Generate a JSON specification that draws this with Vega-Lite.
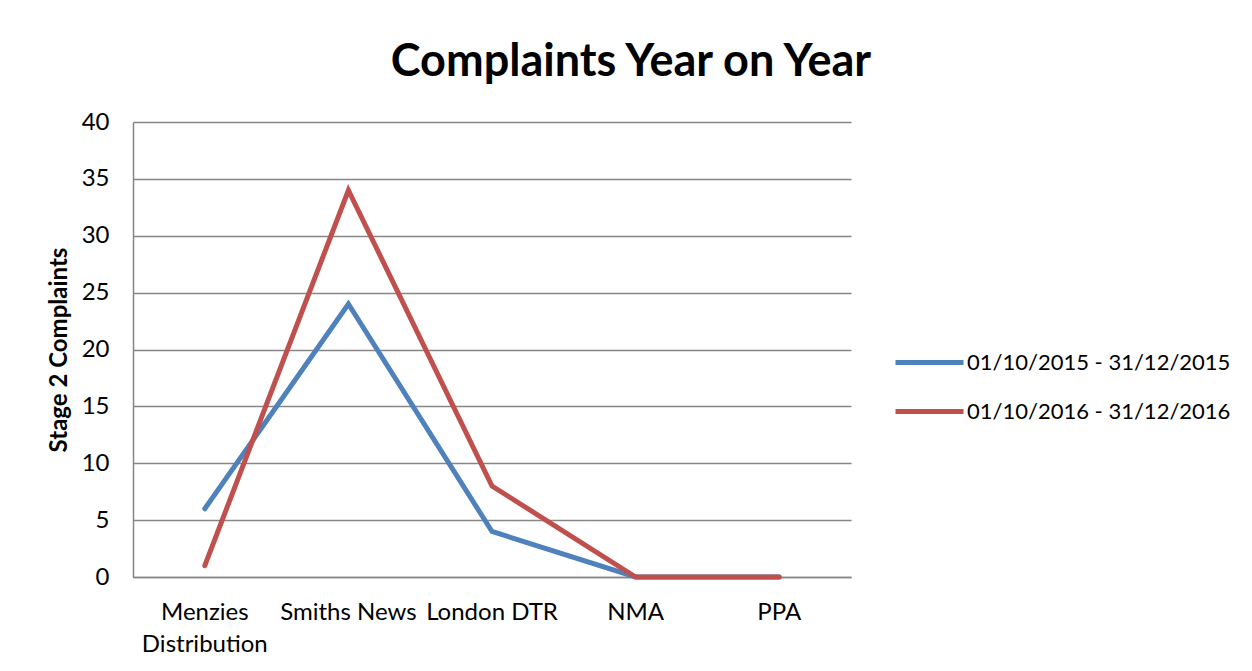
{
  "$schema": "https://vega.github.io/schema/vega-lite/v6.json",
  "width": 718,
  "height": 455,
  "autosize": {"type": "none"},
  "padding": {"left": 133, "top": 122, "right": 401, "bottom": 94},
  "background": "white",
  "title": {
    "text": "Complaints Year on Year",
    "font": "Lato",
    "fontSize": 45,
    "fontWeight": "bold",
    "color": "black",
    "anchor": "middle",
    "baseline": "alphabetic",
    "offset": -11,
    "dx": 139
  },
  "data": {
    "values": [
      {"company": "Menzies Distribution", "period": "01/10/2015 - 31/12/2015", "complaints": 6},
      {"company": "Smiths News", "period": "01/10/2015 - 31/12/2015", "complaints": 24},
      {"company": "London DTR", "period": "01/10/2015 - 31/12/2015", "complaints": 4},
      {"company": "NMA", "period": "01/10/2015 - 31/12/2015", "complaints": 0},
      {"company": "PPA", "period": "01/10/2015 - 31/12/2015", "complaints": 0},
      {"company": "Menzies Distribution", "period": "01/10/2016 - 31/12/2016", "complaints": 1},
      {"company": "Smiths News", "period": "01/10/2016 - 31/12/2016", "complaints": 34},
      {"company": "London DTR", "period": "01/10/2016 - 31/12/2016", "complaints": 8},
      {"company": "NMA", "period": "01/10/2016 - 31/12/2016", "complaints": 0},
      {"company": "PPA", "period": "01/10/2016 - 31/12/2016", "complaints": 0}
    ]
  },
  "mark": {"type": "line", "strokeWidth": 5, "strokeCap": "round", "strokeJoin": "miter"},
  "encoding": {
    "x": {
      "field": "company",
      "type": "nominal",
      "sort": null,
      "scale": {"type": "band", "paddingInner": 0, "paddingOuter": 0},
      "axis": {
        "title": null,
        "labelAngle": 0,
        "labelFont": "Lato",
        "labelFontSize": 24,
        "labelColor": "black",
        "labelPadding": 23,
        "labelLineHeight": 32,
        "labelLimit": 0,
        "ticks": false,
        "domainColor": "#868686",
        "domainWidth": 1.5,
        "grid": false,
        "labelExpr": "datum.value == 'Menzies Distribution' ? ['Menzies', 'Distribution'] : datum.value"
      }
    },
    "y": {
      "field": "complaints",
      "type": "quantitative",
      "scale": {"domain": [0, 40], "nice": false},
      "axis": {
        "title": "Stage 2 Complaints",
        "titleFont": "Lato",
        "titleFontSize": 24,
        "titleFontWeight": "bold",
        "titleColor": "black",
        "titlePadding": 10,
        "values": [0, 5, 10, 15, 20, 25, 30, 35, 40],
        "labelFont": "Lato",
        "labelFontSize": 24,
        "labelColor": "black",
        "labelPadding": 24,
        "ticks": false,
        "domainColor": "#868686",
        "domainWidth": 1.5,
        "gridColor": "#868686",
        "gridWidth": 1.5
      }
    },
    "color": {
      "field": "period",
      "type": "nominal",
      "scale": {"range": ["#4F81BD", "#C0504D"]},
      "legend": {
        "title": null,
        "orient": "none",
        "legendX": 760,
        "legendY": 204,
        "symbolType": "stroke",
        "symbolSize": 4624,
        "symbolStrokeWidth": 5,
        "labelFont": "Lato",
        "labelFontSize": 22,
        "labelColor": "black",
        "labelOffset": 1,
        "labelLimit": 0,
        "rowPadding": 1
      }
    }
  },
  "config": {
    "view": {"stroke": null}
  }
}
